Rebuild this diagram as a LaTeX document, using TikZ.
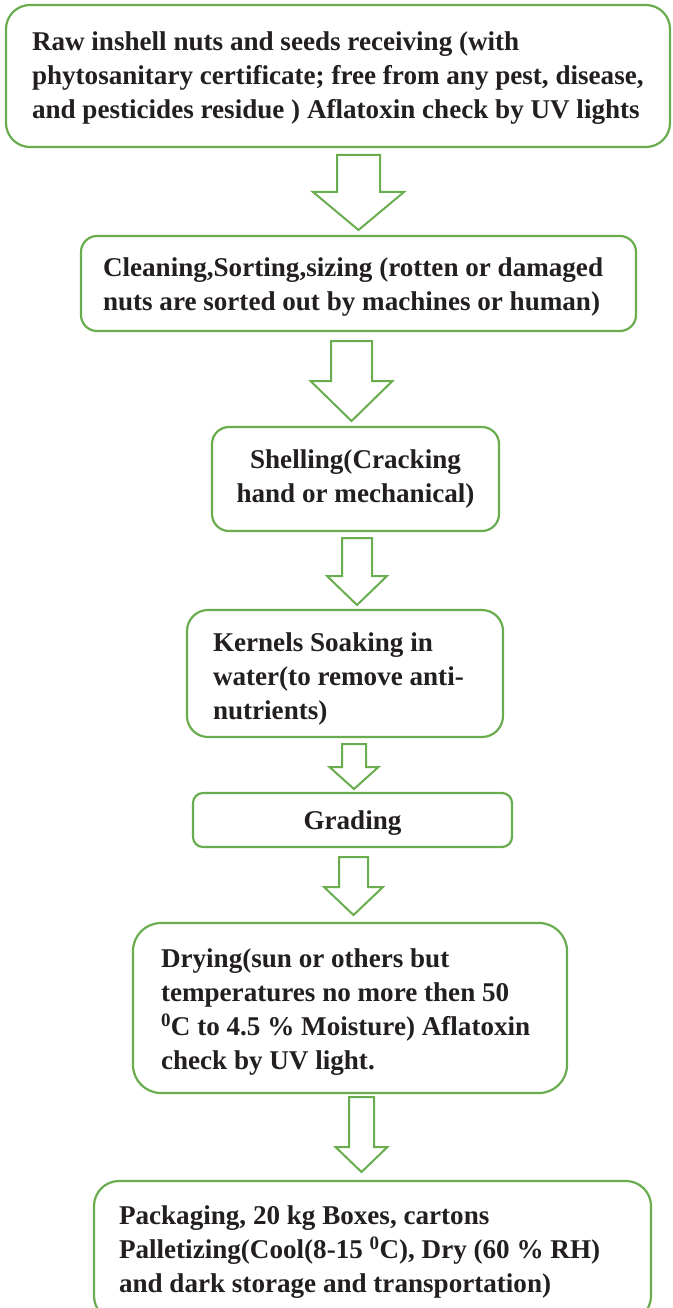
\documentclass[tikz,border=0pt]{standalone}
\usepackage{fontspec}
\setmainfont{Liberation Serif}
\definecolor{grn}{HTML}{6AAD4F}
\definecolor{ink}{HTML}{231F20}
\begin{document}
\begin{tikzpicture}[x=1pt,y=-1pt,
  box/.style={draw=grn, line width=2.2pt, fill=white, inner sep=0pt, outer sep=0pt},
  txt/.style={font=\bfseries\fontsize{27.1}{34}\selectfont, text=ink, inner sep=0pt, outer sep=0pt},
  barrow/.style={draw=grn, line width=2pt, fill=white, line join=miter}]
\useasboundingbox (0,0) rectangle (672,1308);
\clip (0,0) rectangle (672,1308);
\newcommand\blockarrow[6]{%
  \draw[barrow] (#1-#3,#2) -- (#1+#3,#2) -- (#1+#3,#5) -- (#1+#4,#5) -- (#1,#6)
     -- (#1-#4,#5) -- (#1-#3,#5) -- cycle;}
% boxes
\node[box, rounded corners=24pt, minimum width=664pt, minimum height=142pt] (b1) at (338,76) {};
\node[box, rounded corners=16pt, minimum width=555pt, minimum height=95pt] (b2) at (358.5,283.5) {};
\node[box, rounded corners=17pt, minimum width=287pt, minimum height=104pt, txt, align=center] (b3) at (355.5,479) {Shelling(Cracking\\hand or mechanical)};
\node[box, rounded corners=21pt, minimum width=316pt, minimum height=127pt] (b4) at (345,673.5) {};
\node[box, rounded corners=10pt, minimum width=319pt, minimum height=54pt, txt, text depth=0pt, align=center] (b5) at (352.5,820) {Grading};
\node[box, rounded corners=28pt, minimum width=434pt, minimum height=170pt] (b6) at (350,1008) {};
\node[box, rounded corners=25pt, minimum width=557pt, minimum height=140pt] (b7) at (372.5,1251) {};
% texts
\node[txt, align=left, anchor=west] (t1) at ([xshift=26pt,yshift=-2pt]b1.west) {Raw inshell nuts and seeds receiving (with\\phytosanitary certificate; free from any pest, disease,\\and pesticides residue ) Aflatoxin check by UV lights};
\node[txt, align=left, anchor=west] (t2) at ([xshift=22pt,yshift=-4pt]b2.west) {Cleaning,Sorting,sizing (rotten or damaged\\nuts are sorted out by machines or human)};
\node[txt, align=left, anchor=west] (t4) at ([xshift=26pt,yshift=-5pt]b4.west) {Kernels Soaking in\\water(to remove anti-\\nutrients)};
\node[txt, align=left, anchor=west] (t6) at ([xshift=28pt,yshift=-4pt]b6.west) {Drying(sun or others but\\temperatures no more then 50\\\textsuperscript{0}C to 4.5 \% Moisture) Aflatoxin\\check by UV light.};
\node[txt, align=left, anchor=west] (t7) at ([xshift=25pt,yshift=-1pt]b7.west) {Packaging, 20 kg Boxes, cartons\\Palletizing(Cool(8-15 \textsuperscript{0}C), Dry (60 \% RH)\\and dark storage and transportation)};
% block arrows
\blockarrow{358.5}{155}{21.5}{45.5}{192}{230}
\blockarrow{351.5}{341}{20.5}{41}{381}{421}
\blockarrow{357}{538}{15}{30}{576}{605}
\blockarrow{354}{744}{12}{24.5}{767}{789}
\blockarrow{353.5}{857}{14.5}{29.5}{887}{915}
\blockarrow{361.5}{1097}{12.5}{26}{1147}{1172}
\end{tikzpicture}
\end{document}
